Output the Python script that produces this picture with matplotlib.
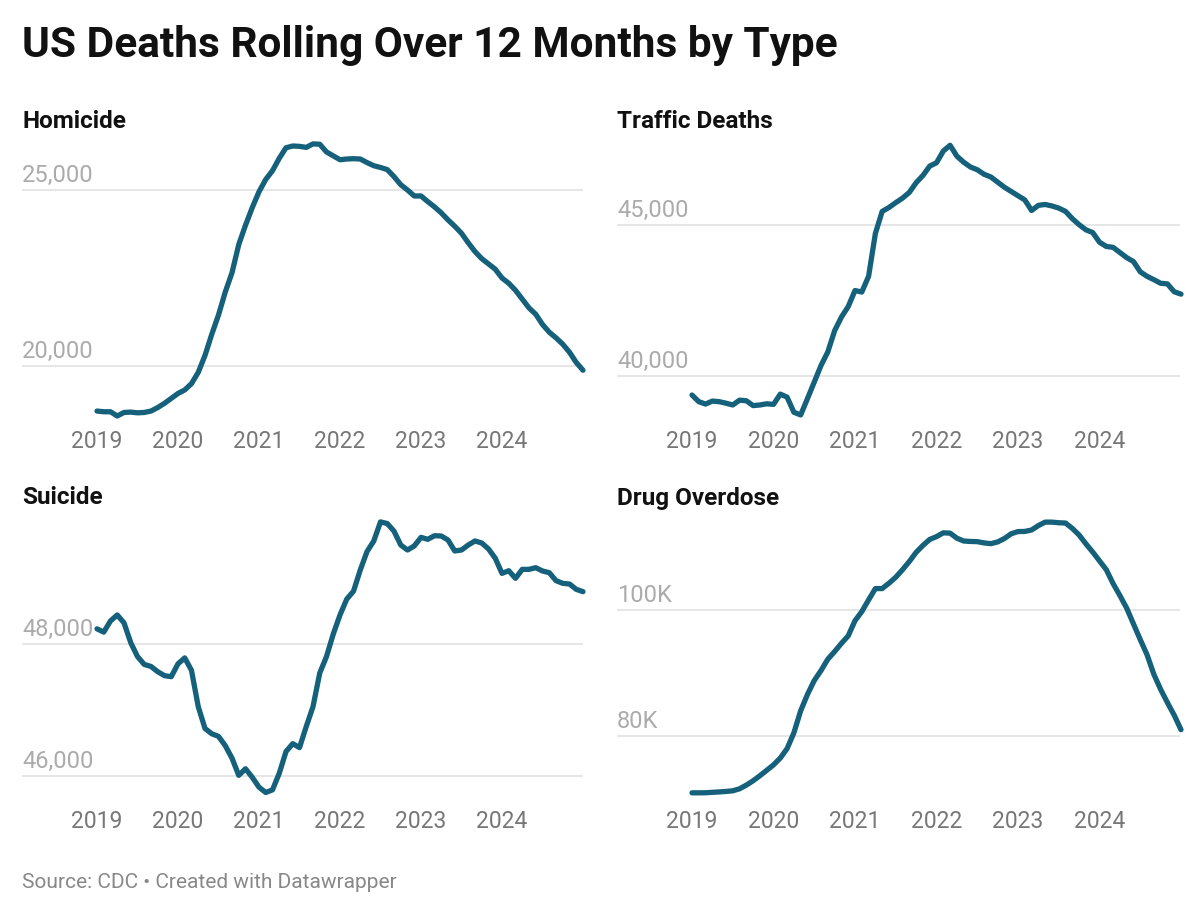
import matplotlib
matplotlib.use("Agg")
import matplotlib.pyplot as plt
import numpy as np
import pandas as pd

plt.rcParams['font.family'] = ['Roboto', 'DejaVu Sans']

months = pd.date_range("2019-01-01", "2025-01-01", freq="MS")
x_years = months.year + (months.month - 1) / 12.0

homicide = [18720, 18700, 18700, 18580, 18680, 18690, 18670, 18680, 18720, 18820, 18940, 19080,
            19220, 19320, 19500, 19820, 20300, 20900, 21450, 22100, 22650, 23450, 24000, 24500,
            24950, 25300, 25550, 25900, 26200, 26250, 26240, 26210, 26310, 26300, 26080, 25970,
            25860, 25880, 25890, 25880, 25780, 25690, 25640, 25580, 25380, 25150, 25000, 24830,
            24830, 24670, 24520, 24350, 24150, 23970, 23770, 23500, 23250, 23050, 22900, 22750,
            22500, 22350, 22150, 21900, 21650, 21470, 21180, 20960, 20800, 20620, 20390, 20100,
            19880]

traffic = [39370, 39150, 39070, 39170, 39150, 39100, 39040, 39200, 39180, 39020, 39040, 39080,
           39060, 39400, 39300, 38800, 38710, 39250, 39800, 40350, 40800, 41500, 41950, 42300,
           42830, 42780, 43300, 44720, 45450, 45580, 45740, 45890, 46080, 46400, 46640, 46950,
           47060, 47450, 47640, 47280, 47080, 46920, 46830, 46680, 46590, 46420, 46250, 46110,
           45970, 45830, 45480, 45650, 45680, 45630, 45560, 45450, 45210, 45010, 44840, 44750,
           44430, 44290, 44260, 44090, 43920, 43790, 43450, 43300, 43190, 43070, 43050, 42790,
           42710]

suicide = [48230, 48180, 48350, 48440, 48320, 48020, 47810, 47690, 47660, 47580, 47520, 47505,
           47700, 47790, 47600, 47050, 46720, 46640, 46600, 46460, 46270, 46010, 46110, 45980,
           45830, 45750, 45790, 46040, 46370, 46490, 46430, 46750, 47050, 47560, 47810, 48150,
           48440, 48680, 48800, 49120, 49400, 49560, 49850, 49825, 49710, 49500, 49424, 49485,
           49616, 49586, 49641, 49636, 49576, 49409, 49424, 49500, 49561, 49530, 49440, 49300,
           49070, 49110, 48995, 49131, 49131, 49156, 49106, 49081, 48960, 48919, 48909, 48828,
           48793]

overdose = [70980, 70980, 70990, 71060, 71120, 71200, 71300, 71620, 72200, 72900, 73700, 74550,
            75420, 76500, 78000, 80500, 84000, 86600, 88800, 90400, 92200, 93400, 94700, 95900,
            98300, 99750, 101600, 103400, 103400, 104250, 105200, 106400, 107700, 109150, 110250, 111200,
            111650, 112250, 112200, 111400, 110950, 110880, 110850, 110650, 110530, 110800, 111350, 112100,
            112450, 112470, 112700, 113400, 113950, 113950, 113850, 113800, 112950, 111900, 110500, 109200,
            107800, 106400, 104200, 102300, 100300, 97800, 95300, 92900, 89800, 87400, 85300, 83300,
            81000]

panel_titles = ["Homicide", "Traffic Deaths", "Suicide", "Drug Overdose"]
series = [homicide, traffic, suicide, overdose]
y_ticks = [[20000, 25000], [40000, 45000], [46000, 48000], [80000, 100000]]
y_tick_labels = [["20,000", "25,000"], ["40,000", "45,000"], ["46,000", "48,000"], ["80K", "100K"]]
x_ticks = [2019, 2020, 2021, 2022, 2023, 2024]
x_tick_labels = ["2019", "2020", "2021", "2022", "2023", "2024"]

title = "US Deaths Rolling Over 12 Months by Type"
source = "Source: CDC • Created with Datawrapper"

W, H = 1199, 915
fig = plt.figure(figsize=(W / 100, H / 100), dpi=100)
fig.patch.set_facecolor("white")

LINE = "#15607a"
GRID = "#e2e2e2"
YLAB = "#ababab"
XLAB = "#777777"

# layout in pixels: (left, right, top, bottom, x_2019_px, px_per_year, ref1_val, ref1_px, ref2_val, ref2_px)
layouts = [
    (22, 583, 140, 420, 97, 81.0, 25000, 190, 20000, 366),
    (617, 1180, 140, 420, 692, 81.5, 45000, 225, 40000, 376),
    (22, 583, 515, 800, 97, 81.0, 48000, 644, 46000, 776),
    (617, 1180, 515, 800, 692, 81.5, 100000, 610, 80000, 736),
]
title_pos = [(22, 121), (617, 121), (22, 498), (617, 498)]

for i, (l, r, t, b, x0, ppy, v1, p1, v2, p2) in enumerate(layouts):
    ax = fig.add_axes([l / W, 1 - b / H, (r - l) / W, (b - t) / H])
    ax.set_facecolor("none")
    xl = 2019 - (x0 - l) / ppy
    xr = 2019 + (r - x0) / ppy
    ax.set_xlim(xl, xr)
    scale = (p2 - p1) / (v1 - v2)  # px per unit
    ytop = v1 + (p1 - t) / scale
    ybot = v2 - (b - p2) / scale
    ax.set_ylim(ybot, ytop)
    for yt, lab in zip(y_ticks[i], y_tick_labels[i]):
        ax.axhline(yt, color=GRID, lw=1.2, zorder=1)
        ax.annotate(lab, xy=(0, yt), xycoords=("axes fraction", "data"),
                    xytext=(0, 2), textcoords="offset points",
                    ha="left", va="bottom", fontsize=17, color=YLAB, zorder=2)
    ax.plot(x_years, series[i], color=LINE, lw=3.8, solid_capstyle="round",
            solid_joinstyle="round", zorder=3, clip_on=False)
    ax.set_yticks([])
    ax.set_xticks(x_ticks)
    ax.set_xticklabels(x_tick_labels, fontsize=16.5, color=XLAB)
    ax.tick_params(axis="x", length=0, pad=7)
    for s in ax.spines.values():
        s.set_visible(False)
    tx, ty = title_pos[i]
    fig.text(tx / W, 1 - ty / H, panel_titles[i], fontsize=17.5, fontweight="bold",
             color="#111111", ha="left", va="center")

fig.text(22 / W, 1 - 45 / H, title, fontsize=30.5, fontweight="bold", color="#111111",
         ha="left", va="center")
fig.text(22 / W, 1 - 883 / H, source, fontsize=15, color="#888888", ha="left", va="center")

fig.savefig("out.png", dpi=100)
